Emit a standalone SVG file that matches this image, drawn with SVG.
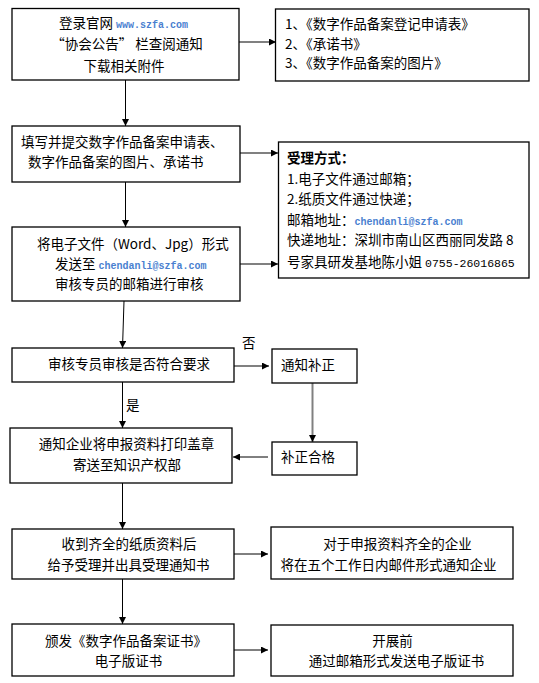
<svg xmlns="http://www.w3.org/2000/svg" width="539" height="683" viewBox="0 0 539 683">
<style>
.box{fill:#fff;stroke:#000;stroke-width:1.3}
.t{font-family:"Noto Sans CJK SC","Liberation Sans",sans-serif;font-size:13.5px;fill:#000}
.m{text-anchor:middle}
.url{font-family:"Liberation Mono","Courier New",monospace;font-weight:bold;font-size:10px;fill:#4a7fd0}
.num{font-family:"Liberation Mono",monospace;font-size:11.5px}
.g{stroke:#808080;stroke-width:2;fill:none}
.k{stroke:#000;stroke-width:1;fill:none}
</style>
<defs>
<marker id="ah" viewBox="0 0 10 10" refX="10" refY="5" markerWidth="9" markerHeight="7" markerUnits="userSpaceOnUse" orient="auto"><path d="M0,0 L10,5 L0,10 z" fill="#000"/></marker>
</defs>
<rect width="539" height="683" fill="#fff"/>
<g id="connectors">
<line class="g" x1="239" y1="42" x2="276" y2="42" marker-end="url(#ah)"/>
<line class="k" x1="125.5" y1="80" x2="125.5" y2="126" marker-end="url(#ah)"/>
<line class="g" x1="240" y1="153" x2="278" y2="153" marker-end="url(#ah)"/>
<line class="k" x1="125.5" y1="182" x2="125.5" y2="227" marker-end="url(#ah)"/>
<line class="g" x1="240" y1="264" x2="278" y2="264" marker-end="url(#ah)"/>
<line class="k" x1="124" y1="301" x2="122.5" y2="348" marker-end="url(#ah)"/>
<line class="g" x1="234" y1="366" x2="269" y2="366" marker-end="url(#ah)"/>
<line class="k" x1="122.5" y1="382" x2="122.5" y2="428" marker-end="url(#ah)"/>
<line class="g" x1="312.5" y1="383" x2="312.5" y2="442" marker-end="url(#ah)"/>
<line class="k" x1="268" y1="457" x2="233" y2="457" marker-end="url(#ah)"/>
<line class="k" x1="122.5" y1="483" x2="122.5" y2="529" marker-end="url(#ah)"/>
<line class="k" x1="234" y1="554" x2="268" y2="554" marker-end="url(#ah)"/>
<line class="k" x1="122.5" y1="579" x2="122.5" y2="624" marker-end="url(#ah)"/>
<line class="k" x1="234" y1="650" x2="268" y2="650" marker-end="url(#ah)"/>
<text class="t" x="242" y="348">否</text>
<text class="t" x="126" y="410">是</text>
</g>
<g id="n1">
<rect class="box" x="12" y="8.5" width="227" height="71.5"/>
<text class="t" x="59" y="28">登录官网 <tspan class="url">www.szfa.com</tspan></text>
<text class="t m" x="127" y="49">“协会公告” 栏查阅通知</text>
<text class="t m" x="124" y="71">下载相关附件</text>
</g>
<g id="n1r">
<rect class="box" x="275.5" y="9" width="253.5" height="72"/>
<text class="t" x="285" y="29">1、《数字作品备案登记申请表》</text>
<text class="t" x="285" y="49">2、《承诺书》</text>
<text class="t" x="285" y="68">3、《数字作品备案的图片》</text>
</g>
<g id="n2">
<rect class="box" x="12" y="126" width="228" height="56"/>
<text class="t" x="21" y="147">填写并提交数字作品备案申请表、</text>
<text class="t" x="28" y="167">数字作品备案的图片、承诺书</text>
</g>
<g id="n2r">
<rect class="box" x="278.5" y="142" width="250.5" height="136"/>
<text class="t" x="287" y="163" font-weight="bold">受理方式：</text>
<text class="t" x="287" y="184">1.电子文件通过邮箱；</text>
<text class="t" x="287" y="204">2.纸质文件通过快递；</text>
<text class="t" x="287" y="225">邮箱地址：<tspan class="url">chendanli@szfa.com</tspan></text>
<text class="t" x="287" y="245">快递地址：深圳市南山区西丽同发路 8</text>
<text class="t" x="287" y="267">号家具研发基地陈小姐 <tspan class="num">0755-26016865</tspan></text>
</g>
<g id="n3">
<rect class="box" x="12" y="227" width="228" height="74"/>
<text class="t" x="37" y="249">将电子文件（Word、Jpg）形式</text>
<text class="t" x="55" y="269">发送至 <tspan class="url">chendanli@szfa.com</tspan></text>
<text class="t" x="55" y="289">审核专员的邮箱进行审核</text>
</g>
<g id="n4">
<rect class="box" x="12" y="348" width="222" height="34"/>
<text class="t m" x="129" y="369">审核专员审核是否符合要求</text>
</g>
<g id="n4r">
<rect class="box" x="272" y="349" width="85" height="34"/>
<text class="t" x="281" y="370">通知补正</text>
</g>
<g id="n5">
<rect class="box" x="10" y="428" width="222" height="55"/>
<text class="t m" x="126.5" y="449">通知企业将申报资料打印盖章</text>
<text class="t m" x="127" y="470">寄送至知识产权部</text>
</g>
<g id="n5r">
<rect class="box" x="272" y="442" width="85" height="33"/>
<text class="t" x="281" y="462">补正合格</text>
</g>
<g id="n6">
<rect class="box" x="12" y="529" width="222" height="50"/>
<text class="t m" x="129" y="549">收到齐全的纸质资料后</text>
<text class="t m" x="128.5" y="570">给予受理并出具受理通知书</text>
</g>
<g id="n6r">
<rect class="box" x="271" y="527" width="242" height="52"/>
<text class="t m" x="397.5" y="549">对于申报资料齐全的企业</text>
<text class="t m" x="388.5" y="570">将在五个工作日内邮件形式通知企业</text>
</g>
<g id="n7">
<rect class="box" x="12" y="624" width="222" height="52"/>
<text class="t m" x="126" y="646">颁发《数字作品备案证书》</text>
<text class="t m" x="128.5" y="666">电子版证书</text>
</g>
<g id="n7r">
<rect class="box" x="271" y="625" width="242" height="51"/>
<text class="t m" x="392.5" y="646">开展前</text>
<text class="t m" x="396.5" y="666">通过邮箱形式发送电子版证书</text>
</g>
</svg>
